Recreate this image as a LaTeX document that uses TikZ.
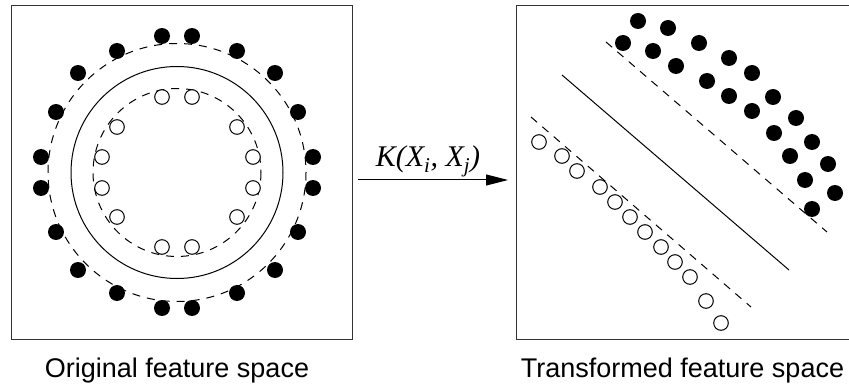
\documentclass[tikz,border=0pt]{standalone}
\usepackage{fontspec}
\setmainfont{Liberation Sans}
\newfontfamily\tms{Liberation Serif}
\usetikzlibrary{arrows.meta}
\begin{document}
\begin{tikzpicture}[x=1pt,y=-1pt,
  frame/.style={draw=black!80,line width=1pt},
  sep/.style={line width=1pt},
  margin/.style={line width=1pt,dash pattern=on 8pt off 7pt},
  posdot/.style={fill=black},
  negc/.style={draw=black,line width=1pt,fill=white},
  captext/.style={font=\fontsize{27}{32}\selectfont,anchor=base}]
\useasboundingbox (0,0) rectangle (849,385);
% left panel
\draw[frame] (11,6) rectangle (352,339);
\draw[sep] (177,172.5) circle[radius=106];
\draw[margin] (177,172.5) circle[radius=84];
\draw[margin] (177,172.5) circle[radius=129];
\foreach \x/\y in {162/36,192/36,117/51,237/51,78/73,275/73,56/112,298/112,41/157,313/157,41/188,313/188,56/232,298/232,78/270,275/270,117/293,237/293,162/308,192/308}
  \fill[posdot] (\x,\y) circle[radius=8];
\foreach \x/\y in {162/97,192/97,117/127,237/127,102/157,253/157,102/188,253/188,117/217,237/217,162/247,192/247}
  \draw[negc] (\x,\y) circle[radius=7.3];
\node[captext] (capL) at (177,377) {Original feature space};
% arrow
\coordinate (a1) at (358,180);
\coordinate (a2) at (508,180);
\draw[line width=1pt,-{Triangle[length=22pt,width=11pt]}] (a1) -- (a2);
\node[anchor=base,font=\tms\itshape\fontsize{30}{36}\selectfont] (klab) at (428,167) {K(X\textsubscript{i}, X\textsubscript{j})};
% right panel
\draw[frame] (849,5.7) -- (516,5.7) -- (516,339.3) -- (849,339.3);
\draw[sep] (562,75) -- (789,270);
\draw[margin] (606,42) -- (827,232);
\draw[margin] (531,117) -- (751,307);
\foreach \x/\y in {638/21,668/28,623/43,653/51,699/43,729/58,676/66,752/73,707/81,729/96,773/97,752/111,796/118,774/133,812/142,790/156,828/164,805/180,835/193,812/209}
  \fill[posdot] (\x,\y) circle[radius=8];
\foreach \x/\y in {539/142,562/156,577/171,600/187,615/202,630/217,645/232,661/247,675/262,690/277,706/301,721/323}
  \draw[negc] (\x,\y) circle[radius=7.3];
\node[captext] (capR) at (682.5,377) {Transformed feature space};
\end{tikzpicture}
\end{document}
